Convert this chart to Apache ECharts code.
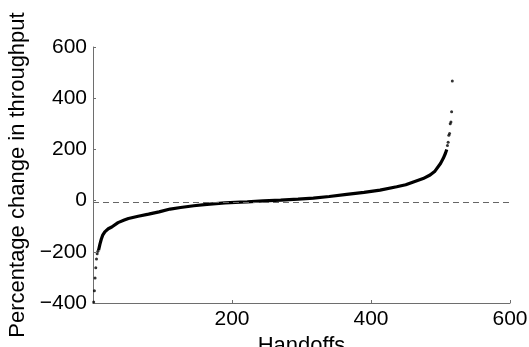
<!DOCTYPE html>
<html>
<head>
<meta charset="utf-8">
<script src="https://cdn.jsdelivr.net/npm/echarts@6/dist/echarts.min.js"></script>
<style>
  html, body {margin: 0; padding: 0; background: #fff;}
  #chart {width: 529px; height: 347px;}
</style>
</head>
<body>
<div id="chart"></div>
<script>
// dense middle of the sorted curve (handoff index, % change)
const curveX = [8, 10, 12, 14, 17, 22, 27, 36, 45, 51, 65, 80, 95, 111, 126, 145, 164, 190, 212, 222, 245, 270, 295, 317, 340, 365, 390, 413, 437, 450, 461, 475, 485, 492, 500, 504, 507, 509];
const curveY = [-194, -170, -150, -135, -122, -110, -103, -86, -76, -70, -61, -53, -44, -33, -27, -20, -15, -9, -6, -5, -1, 2, 6, 10, 16, 24, 32, 41, 54, 62, 73, 86, 100, 115, 145, 165, 184, 200];
// sparse dots at both ends
const tailX = [1, 2, 3, 4, 5, 6, 7, 510, 511, 512, 513, 514, 515, 516, 517];
const tailY = [-396, -352, -302, -262, -228, -208, -198, 215, 228, 255, 262, 300, 307, 347, 467];
const xTicks = [0, 200, 400, 600];
const yTicks = [-400, -200, 0, 200, 400, 600];
const zeroLineY = -7;

const pairs = (xs, ys) => xs.map((x, i) => [x, ys[i]]);

const font = 'Liberation Sans, Arial, Helvetica, sans-serif';
const axisGray = '#6e6e6e';

const myChart = echarts.init(document.getElementById('chart'));
myChart.setOption({
  animation: false,
  grid: {left: 93, right: 19, top: 47, bottom: 44, containLabel: false, outerBoundsMode: 'none'},
  xAxis: {
    type: 'value',
    min: xTicks[0],
    max: xTicks[xTicks.length - 1],
    interval: 200,
    name: 'Handoffs',
    nameLocation: 'middle',
    nameGap: 26,
    nameTextStyle: {fontFamily: font, fontSize: 22, color: '#000'},
    axisLine: {onZero: false, lineStyle: {color: axisGray, width: 1}},
    axisTick: {inside: true, length: 3, lineStyle: {color: axisGray}},
    axisLabel: {
      margin: 6,
      fontFamily: font,
      fontSize: 21,
      color: '#000',
      formatter: v => (v === 0 ? '' : String(v))
    },
    splitLine: {show: false}
  },
  yAxis: {
    type: 'value',
    min: yTicks[0],
    max: yTicks[yTicks.length - 1],
    interval: 200,
    name: 'Percentage change in throughput',
    nameLocation: 'middle',
    nameRotate: 90,
    nameGap: 57,
    nameTextStyle: {fontFamily: font, fontSize: 22, color: '#000'},
    axisLine: {show: true, onZero: false, lineStyle: {color: axisGray, width: 1}},
    axisTick: {show: true, inside: true, length: 3, lineStyle: {color: axisGray}},
    axisLabel: {
      margin: 6,
      fontFamily: font,
      fontSize: 21,
      color: '#000',
      formatter: v => String(v).replace('-', '\u2212')
    },
    splitLine: {show: false}
  },
  series: [
    {
      type: 'line',
      data: pairs(curveX, curveY),
      showSymbol: false,
      lineStyle: {color: '#000', width: 3.2},
      z: 3,
      markLine: {
        silent: true,
        symbol: 'none',
        label: {show: false},
        lineStyle: {color: '#666', type: [6, 4], width: 1},
        data: [{yAxis: zeroLineY}]
      }
    },
    {
      type: 'scatter',
      data: pairs(tailX, tailY),
      symbolSize: 3,
      itemStyle: {color: '#000'},
      z: 3
    }
  ]
});
</script>
</body>
</html>
